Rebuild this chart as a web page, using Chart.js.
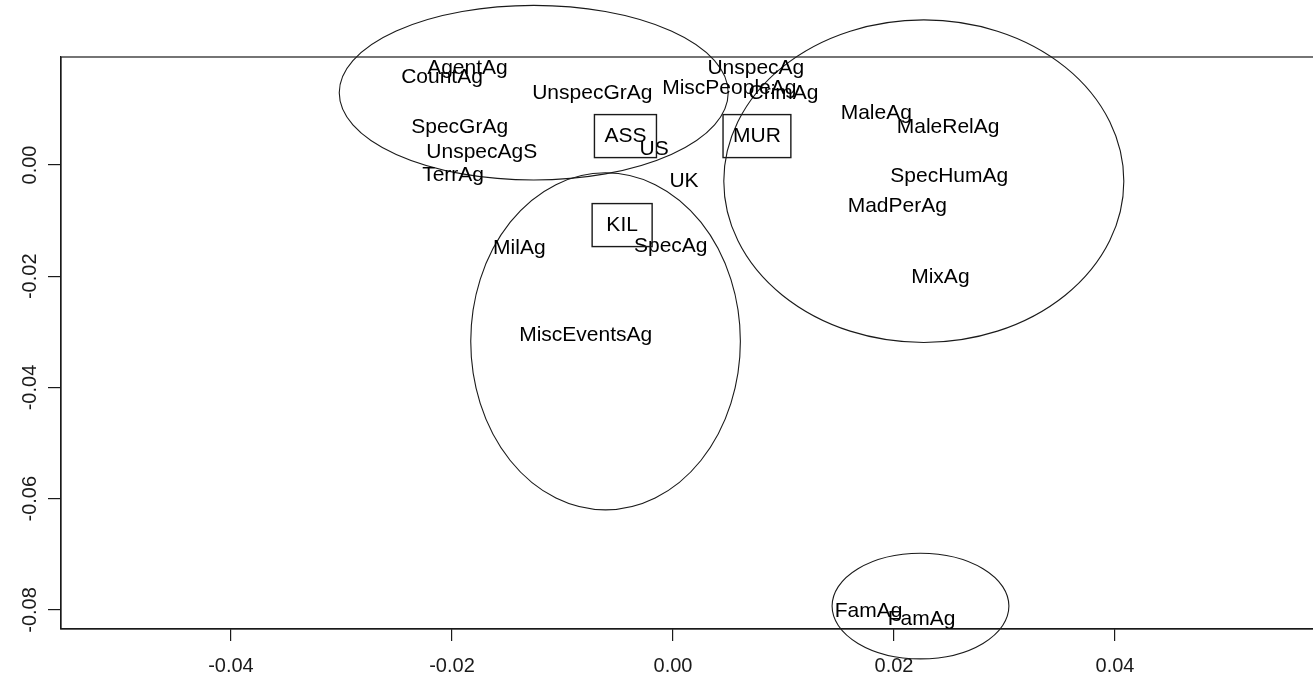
<!DOCTYPE html>
<html>
<head>
<meta charset="utf-8">
<script src="https://cdn.jsdelivr.net/npm/chart.js@4/dist/chart.umd.min.js"></script>
<style>
  html, body { margin: 0; padding: 0; background: #fff; }
  #wrap { width: 1313px; height: 684px; }
</style>
</head>
<body>
<div id="wrap"><canvas id="plot"></canvas></div>
<script>
// word labels (text at its position, like R text())
const labelNames = ['CountAg', 'AgentAg', 'UnspecGrAg', 'MiscPeopleAg', 'UnspecAg', 'CrimAg',
  'MaleAg', 'MaleRelAg', 'SpecHumAg', 'MadPerAg', 'MixAg', 'SpecGrAg', 'UnspecAgS', 'TerrAg',
  'US', 'UK', 'MilAg', 'SpecAg', 'MiscEventsAg', 'FamAg', 'FamAg'];
const labelX = [-0.0209, -0.0186, -0.0073, 0.0051, 0.0075, 0.0100,
  0.0184, 0.0249, 0.0250, 0.0203, 0.0242, -0.0193, -0.0173, -0.0199,
  -0.0017, 0.0010, -0.0139, -0.0002, -0.0079, 0.0177, 0.0225];
const labelY = [0.0158, 0.0174, 0.0129, 0.0138, 0.0174, 0.0129,
  0.0094, 0.0068, -0.0020, -0.0074, -0.0201, 0.0068, 0.0023, -0.0018,
  0.0029, -0.0029, -0.0149, -0.0146, -0.0306, -0.0802, -0.0816];

// boxed labels
const boxNames = ['ASS', 'MUR', 'KIL'];
const boxX = [-0.0043, 0.0076, -0.0046];
const boxY = [0.0052, 0.0052, -0.0108];

// circled groups: centre and radii in data units
const ellipseCX = [-0.0126, -0.0061, 0.0227, 0.0224];
const ellipseCY = [0.0130, -0.0317, -0.0029, -0.0793];
const ellipseRX = [0.0176, 0.0122, 0.0181, 0.0080];
const ellipseRY = [0.0157, 0.0303, 0.0290, 0.0095];

const xTicks = [-0.04, -0.02, 0.00, 0.02, 0.04];
const yTicks = [0.00, -0.02, -0.04, -0.06, -0.08];

const INK = '#1a1a1a';
const FONT = '"Liberation Sans", Arial, sans-serif';

const annotate = {
  id: 'annotate',
  afterDraw(chart) {
    const { ctx, chartArea: { left, right, top, bottom }, scales: { x, y } } = chart;
    ctx.save();
    ctx.strokeStyle = INK;
    ctx.lineWidth = 1.2;
    // plot box
    ctx.strokeRect(left, top, right - left + 2, bottom - top);

    // y tick labels, rotated like R
    ctx.fillStyle = INK;
    ctx.font = '20px ' + FONT;
    ctx.textAlign = 'center';
    ctx.textBaseline = 'middle';
    yTicks.forEach(v => {
      const py = y.getPixelForValue(v);
      ctx.save();
      ctx.translate(30, py);
      ctx.rotate(-Math.PI / 2);
      ctx.fillText(v.toFixed(2), 0, 0);
      ctx.restore();
    });

    // ellipses
    ctx.lineWidth = 1.1;
    ellipseCX.forEach((cx, i) => {
      const px = x.getPixelForValue(cx);
      const py = y.getPixelForValue(ellipseCY[i]);
      const rx = Math.abs(x.getPixelForValue(cx + ellipseRX[i]) - px);
      const ry = Math.abs(y.getPixelForValue(ellipseCY[i] + ellipseRY[i]) - py);
      ctx.beginPath();
      ctx.ellipse(px, py, rx, ry, 0, 0, Math.PI * 2);
      ctx.stroke();
    });

    // text labels
    ctx.font = '21px ' + FONT;
    ctx.fillStyle = '#000';
    chart.getDatasetMeta(0).data.forEach((pt, i) => {
      ctx.fillText(labelNames[i], pt.x, pt.y);
    });

    // boxed labels
    ctx.lineWidth = 1.4;
    chart.getDatasetMeta(1).data.forEach((pt, i) => {
      const w = Math.max(ctx.measureText(boxNames[i]).width + 20, 60);
      const h = 43;
      ctx.strokeRect(pt.x - w / 2, pt.y - h / 2, w, h);
      ctx.fillText(boxNames[i], pt.x, pt.y);
    });
    ctx.restore();
  }
};

new Chart(document.getElementById('plot'), {
  type: 'scatter',
  data: {
    datasets: [
      {
        label: 'labels',
        data: labelX.map((v, i) => ({ x: v, y: labelY[i] })),
        pointRadius: 0
      },
      {
        label: 'boxes',
        data: boxX.map((v, i) => ({ x: v, y: boxY[i] })),
        pointRadius: 0
      }
    ]
  },
  options: {
    responsive: true,
    maintainAspectRatio: false,
    animation: false,
    events: [],
    layout: { padding: { top: 57, right: 0, left: 0, bottom: 0 } },
    plugins: { legend: { display: false }, tooltip: { enabled: false } },
    scales: {
      x: {
        type: 'linear',
        min: -0.05538,
        max: 0.05792,
        afterBuildTicks: s => { s.ticks = xTicks.map(v => ({ value: v })); },
        afterFit: s => { s.height = 55; },
        grid: { drawOnChartArea: false, drawTicks: true, tickLength: 12, color: INK, lineWidth: 1.2 },
        border: { display: true, color: INK, width: 1.2 },
        ticks: {
          color: INK,
          font: { family: FONT, size: 20 },
          padding: 13,
          maxRotation: 0,
          callback: v => v.toFixed(2)
        }
      },
      y: {
        type: 'linear',
        min: -0.08342,
        max: 0.01942,
        afterBuildTicks: s => { s.ticks = yTicks.map(v => ({ value: v })); },
        afterFit: s => { s.width = 61; },
        grid: { drawOnChartArea: false, drawTicks: true, tickLength: 13, color: INK, lineWidth: 1.2 },
        border: { display: true, color: INK, width: 1.2 },
        ticks: { display: false }
      }
    }
  },
  plugins: [annotate]
});
</script>
</body>
</html>
